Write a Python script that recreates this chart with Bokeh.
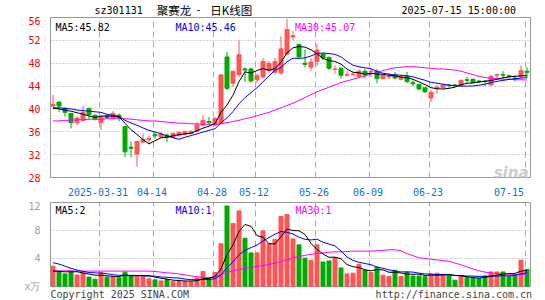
from bokeh.plotting import figure
from bokeh.models import ColumnDataSource, Range1d, FixedTicker, Label, Title
from bokeh.layouts import column
from bokeh.embed import file_html
from bokeh.resources import INLINE

# ---------------- data ----------------
day_index = list(range(80))

open_price = [40.5, 41.2, 40.1, 39.2, 37.6, 38.0, 40.1, 38.9, 37.6, 38.8,
              38.4, 38.9, 36.9, 33.3, 32.1, 34.2, 34.6, 35.5, 35.1, 35.4,
              35.0, 35.3, 35.5, 35.7, 36.1, 37.2, 37.8, 37.2, 37.5, 49.1,
              44.5, 46.0, 47.0, 47.0, 45.1, 45.6, 46.7, 46.4, 46.3, 49.6,
              52.6, 51.3, 48.0, 47.3, 48.3, 49.6, 49.0, 46.9, 47.1, 45.9,
              46.0, 45.7, 46.6, 46.5, 46.6, 45.3, 45.6, 46.0, 45.2, 45.7,
              44.6, 44.3, 43.7, 41.9, 43.6, 43.7, 44.2, 44.2, 44.1, 45.1,
              45.2, 44.9, 44.9, 44.2, 45.9, 46.0, 45.8, 45.4, 45.6, 46.6]
high_price = [42.5, 41.3, 40.3, 39.3, 38.7, 40.5, 40.2, 39.0, 38.8, 38.9,
              39.6, 39.2, 37.0, 34.3, 34.3, 35.7, 35.3, 35.9, 36.0, 35.7,
              35.9, 36.1, 36.2, 36.2, 37.7, 38.9, 38.6, 38.6, 45.96, 50.0,
              46.6, 52.0, 47.3, 47.2, 46.2, 48.9, 48.4, 48.9, 52.8, 55.8,
              53.6, 51.4, 50.4, 48.9, 51.4, 49.8, 49.2, 47.6, 47.3, 46.6,
              46.4, 46.9, 47.0, 47.0, 47.0, 46.0, 46.2, 46.5, 46.0, 46.5,
              45.0, 44.4, 43.8, 43.3, 44.2, 44.3, 44.4, 44.4, 45.1, 45.6,
              45.3, 45.0, 45.0, 46.0, 46.1, 46.6, 46.0, 45.9, 47.6, 47.3]
low_price = [40.3, 39.5, 38.6, 36.6, 37.2, 37.8, 38.1, 38.0, 36.3, 38.3,
             38.3, 37.8, 31.6, 31.6, 29.9, 34.0, 33.8, 34.8, 34.9, 34.2,
             34.9, 35.2, 35.4, 35.6, 36.0, 37.0, 37.2, 37.0, 37.4, 43.3,
             43.8, 45.6, 44.7, 44.6, 44.5, 45.3, 46.3, 46.0, 46.0, 49.4,
             52.0, 49.0, 47.3, 46.6, 47.5, 48.5, 46.8, 46.2, 45.3, 45.6,
             45.8, 45.6, 45.3, 45.6, 44.5, 45.2, 45.2, 45.2, 45.0, 44.5,
             44.0, 43.2, 42.8, 41.2, 42.7, 43.6, 43.7, 43.9, 44.0, 44.5,
             44.5, 44.5, 44.0, 44.0, 45.1, 45.3, 45.3, 44.8, 45.4, 45.4]
close_price = [40.8, 40.5, 39.4, 37.6, 38.4, 39.4, 39.0, 38.2, 38.7, 38.5,
               39.2, 38.5, 32.5, 33.1, 34.3, 34.7, 34.8, 35.3, 35.6, 35.0,
               35.7, 35.9, 36.0, 36.1, 37.2, 38.0, 37.6, 38.3, 45.96, 43.6,
               46.6, 49.5, 46.8, 44.9, 45.8, 48.3, 48.0, 48.3, 50.5, 53.9,
               52.8, 49.1, 47.8, 48.2, 50.3, 48.9, 47.1, 47.0, 45.9, 46.0,
               46.1, 46.6, 45.9, 46.6, 45.3, 45.9, 45.7, 45.4, 45.6, 44.8,
               44.4, 43.5, 43.0, 42.9, 43.8, 44.2, 44.1, 44.1, 45.0, 45.0,
               44.6, 44.8, 44.8, 45.7, 46.0, 45.9, 45.7, 45.2, 46.7, 46.4]

ma5 = [40.1, 40.0, 39.8, 39.6, 39.34, 39.06, 38.76, 38.52, 38.74, 38.76,
       38.72, 38.62, 37.48, 36.36, 35.52, 34.62, 33.88, 34.44, 34.94, 35.08,
       35.28, 35.5, 35.64, 35.74, 36.18, 36.64, 36.98, 37.44, 39.41, 40.69,
       42.41, 44.79, 46.49, 46.28, 46.72, 47.06, 46.76, 47.06, 48.18, 49.8,
       50.7, 50.92, 50.82, 50.36, 49.64, 48.86, 48.46, 48.3, 47.84, 46.98,
       46.42, 46.32, 46.1, 46.24, 46.1, 46.06, 45.88, 45.78, 45.58, 45.48,
       45.18, 44.74, 44.26, 43.72, 43.52, 43.48, 43.6, 43.82, 44.24, 44.48,
       44.56, 44.7, 44.84, 44.98, 45.18, 45.44, 45.62, 45.7, 45.8, 45.82]
ma10 = [40.2, 40.2, 40.1, 40.0, 39.8, 39.7, 39.6, 39.5, 39.4, 39.05,
        38.89, 38.69, 38.0, 37.55, 37.14, 36.67, 36.25, 35.96, 35.65, 35.3,
        34.95, 34.69, 35.04, 35.34, 35.63, 35.96, 36.24, 36.54, 37.58, 38.44,
        39.53, 40.89, 41.97, 42.85, 43.71, 44.74, 45.78, 46.78, 47.23, 48.26,
        48.88, 48.84, 48.94, 49.27, 49.72, 49.78, 49.69, 49.56, 49.1, 48.31,
        47.64, 47.39, 47.2, 47.04, 46.54, 46.24, 46.1, 45.94, 45.91, 45.79,
        45.62, 45.31, 45.02, 44.65, 44.5, 44.33, 44.17, 44.04, 43.98, 44.0,
        44.02, 44.15, 44.33, 44.61, 44.83, 45.0, 45.16, 45.27, 45.4, 45.46]
ma30 = [37.9, 37.9, 38.0, 38.0, 38.1, 38.1, 38.2, 38.2, 38.2, 38.3,
        38.3, 38.3, 38.3, 38.2, 38.1, 38.0, 37.9, 37.9, 37.8, 37.7,
        37.6, 37.5, 37.5, 37.4, 37.4, 37.3, 37.3, 37.3, 37.4, 37.6,
        37.8, 38.0, 38.3, 38.5, 38.8, 39.1, 39.4, 39.8, 40.2, 40.6,
        41.0, 41.5, 42.0, 42.5, 43.0, 43.4, 43.8, 44.2, 44.6, 44.9,
        45.2, 45.5, 45.8, 46.1, 46.4, 46.7, 47.0, 47.2, 47.3, 47.4,
        47.4, 47.3, 47.2, 47.1, 47.0, 47.0, 46.9, 46.8, 46.6, 46.3,
        46.0, 45.7, 45.5, 45.3, 45.3, 45.2, 45.2, 45.1, 45.1, 45.07]

volume = [2.9, 2.1, 1.8, 2.1, 1.65, 1.95, 1.35, 1.05, 2.0, 1.35,
          1.45, 1.25, 2.05, 1.6, 1.55, 1.45, 1.1, 0.95, 0.8, 1.0,
          0.72, 0.72, 0.72, 0.72, 1.2, 2.15, 1.1, 2.0, 6.1, 11.5,
          9.0, 10.8, 6.9, 4.8, 4.8, 7.95, 6.1, 6.75, 10.0, 10.3,
          6.8, 5.95, 4.05, 3.75, 5.95, 3.5, 3.65, 4.1, 2.65, 1.8,
          1.9, 3.15, 2.35, 2.0, 2.75, 1.62, 1.45, 2.33, 1.45, 2.0,
          1.5, 1.5, 1.4, 1.75, 1.9, 1.75, 1.62, 0.9, 1.42, 1.27,
          1.27, 1.14, 1.5, 2.08, 2.08, 2.08, 1.45, 1.65, 3.76, 2.45]
vol_ma5 = [2.2, 2.15, 2.1, 2.1, 2.11, 1.92, 1.77, 1.62, 1.6, 1.54,
           1.44, 1.42, 1.62, 1.54, 1.58, 1.58, 1.55, 1.33, 1.17, 1.06,
           0.91, 0.84, 0.79, 0.78, 0.82, 1.1, 1.18, 1.43, 2.51, 4.57,
           5.94, 7.88, 8.86, 8.6, 7.26, 7.05, 6.11, 6.08, 7.12, 8.22,
           7.99, 7.96, 7.42, 6.17, 5.3, 4.64, 4.18, 4.19, 3.97, 3.14,
           2.82, 2.72, 2.37, 2.24, 2.43, 2.37, 2.03, 2.03, 1.92, 1.77,
           1.75, 1.76, 1.57, 1.63, 1.61, 1.66, 1.68, 1.58, 1.52, 1.39,
           1.3, 1.2, 1.32, 1.45, 1.61, 1.78, 1.84, 1.87, 2.2, 2.28]
vol_ma10 = [3.4, 3.2, 2.9, 2.6, 2.35, 2.15, 2.0, 1.95, 1.9, 1.83,
            1.68, 1.6, 1.62, 1.57, 1.56, 1.51, 1.49, 1.48, 1.36, 1.32,
            1.25, 1.2, 1.06, 0.98, 0.94, 1.01, 1.01, 1.11, 1.65, 2.7,
            3.52, 4.53, 5.15, 5.56, 5.92, 6.5, 7.0, 7.47, 7.86, 7.74,
            7.52, 7.04, 6.75, 6.65, 6.76, 6.32, 6.07, 5.81, 5.07, 4.22,
            3.73, 3.45, 3.28, 3.11, 2.79, 2.6, 2.38, 2.2, 2.08, 2.1,
            2.06, 1.9, 1.8, 1.78, 1.69, 1.71, 1.72, 1.58, 1.58, 1.5,
            1.48, 1.44, 1.45, 1.49, 1.5, 1.54, 1.52, 1.6, 1.83, 1.95]
vol_ma30 = [2.25, 2.25, 2.25, 2.25, 2.2, 2.2, 2.2, 2.2, 2.2, 2.2,
            2.2, 2.2, 2.2, 2.2, 2.2, 2.2, 2.2, 2.15, 2.05, 1.95,
            1.9, 1.8, 1.65, 1.5, 1.4, 1.3, 1.25, 1.4, 1.7, 2.0,
            2.25, 2.4, 2.6, 2.7, 2.85, 3.0, 3.15, 3.35, 3.55, 3.8,
            4.1, 4.3, 4.45, 4.6, 4.7, 4.8, 4.9, 4.95, 4.95, 5.0,
            5.05, 5.05, 5.05, 5.05, 5.1, 5.15, 5.25, 5.25, 5.1, 4.7,
            4.4, 4.1, 4.0, 3.9, 3.8, 3.7, 3.6, 3.35, 3.1, 2.8,
            2.5, 2.25, 2.05, 1.95, 1.85, 1.8, 1.75, 1.72, 1.72, 1.75]

date_labels = ["2025-03-31", "04-14", "04-28", "05-12", "05-26", "06-09", "06-23", "07-15"]
date_days = [8, 17, 27, 34, 44, 53, 63, 79]
price_ticks = [28, 32, 36, 40, 44, 48, 52, 56]
volume_ticks = [0, 4, 8, 12]

# ---------------- styling ----------------
RED = "#ff5555"
GREEN = "#00aa00"
MONO = "DejaVu Sans Mono"
CJK = "Noto Sans CJK SC"
X0 = -5.0 / 12.0          # x-range start (frame left edge)
X1 = X0 + 80.0

colors = [RED if c >= o else GREEN for o, c in zip(open_price, close_price)]
src = ColumnDataSource(dict(
    x=day_index, o=open_price, h=high_price, l=low_price, c=close_price,
    top=[max(o, c) for o, c in zip(open_price, close_price)],
    bot=[min(o, c) for o, c in zip(open_price, close_price)],
    color=colors, vol=volume, ma5=ma5, ma10=ma10, ma30=ma30,
    vma5=vol_ma5, vma10=vol_ma10, vma30=vol_ma30,
))

grid_pos = [d - 1.0 / 3.0 for d in date_days]
label_pos = [d - 0.5 for d in date_days[:-1]] + [76.0]


def px_x(px):
    return X0 + (px - 50.0) / 6.0


def style_common(fig):
    fig.outline_line_color = "#999999"
    fig.outline_line_width = 1
    fig.background_fill_color = "white"
    fig.border_fill_color = "white"
    fig.xgrid.ticker = FixedTicker(ticks=grid_pos)
    fig.xgrid.grid_line_color = "#aaaaaa"
    fig.xgrid.grid_line_dash = "6 4"
    fig.ygrid.grid_line_color = "#aaaaaa"
    fig.ygrid.grid_line_dash = "1 2"
    for ax in fig.yaxis:
        ax.axis_line_color = None
        ax.major_tick_line_color = None
        ax.minor_tick_line_color = None
        ax.major_label_standoff = 4
        ax.major_label_text_font = MONO
        ax.major_label_text_font_size = "10px"


def add_label(fig, x, y, text, color="black", align="left", font=MONO, size="10px",
              baseline="alphabetic", style="normal", y_offset=0):
    fig.add_layout(Label(x=x, y=y, text=text, text_color=color, text_align=align,
                         text_baseline=baseline, text_font=font, text_font_size=size,
                         text_font_style=style, y_offset=y_offset))


# ---------------- header strip: texts hang from the strip's top edge ----------------
HEAD_H = 16
head = figure(width=545, height=HEAD_H, x_range=Range1d(0, 545), y_range=Range1d(0, HEAD_H),
              title=None, output_backend="svg", toolbar_location=None,
              min_border_left=0, min_border_right=0, min_border_top=0, min_border_bottom=0)
head.axis.visible = False
head.grid.visible = False
head.outline_line_color = None
head.background_fill_color = "white"
head.border_fill_color = "white"

add_label(head, 50, HEAD_H, "sz301131", baseline="top", y_offset=-4)
add_label(head, 120.5, HEAD_H, "聚赛龙", font=CJK, size="11.5px", baseline="top", y_offset=-1)
add_label(head, 168, HEAD_H, "-", align="center", font=MONO, size="10px", baseline="top", y_offset=-4)
add_label(head, 181.5, HEAD_H, "日K线图", font=CJK, size="11.5px", baseline="top", y_offset=-1)
add_label(head, 528.5, HEAD_H, "2025-07-15 15:00:00", align="right", baseline="top", y_offset=-4)

# ---------------- main K-line panel ----------------
p = figure(width=545, height=200 - HEAD_H, x_range=Range1d(X0, X1), y_range=Range1d(28, 56),
           title=None, output_backend="svg", toolbar_location=None,
           min_border_left=50, min_border_right=15, min_border_top=17 - HEAD_H, min_border_bottom=23)
style_common(p)
price_label_pos = price_ticks[:-1] + [55.6]
p.yaxis.ticker = FixedTicker(ticks=price_label_pos)
p.yaxis.major_label_overrides = {pos: str(t) for pos, t in zip(price_label_pos, price_ticks)}
p.yaxis.major_label_text_color = "#ff0000"
p.ygrid.ticker = FixedTicker(ticks=price_ticks[1:-1])
p.xaxis.ticker = FixedTicker(ticks=label_pos)
p.xaxis.major_label_overrides = {pos: lab for pos, lab in zip(label_pos, date_labels)}
p.xaxis.axis_line_color = None
p.xaxis.major_tick_line_color = None
p.xaxis.minor_tick_line_color = None
p.xaxis.major_label_standoff = 4
p.xaxis.major_label_text_color = "#1273c5"
p.xaxis.major_label_text_font = MONO
p.xaxis.major_label_text_font_size = "10px"

p.segment(x0="x", y0="h", x1="x", y1="l", line_color="color", line_width=1, source=src)
p.vbar(x="x", width=4.0 / 6.0, top="top", bottom="bot", fill_color="color",
       line_color="color", line_width=1, source=src)
p.line("x", "ma30", line_color="#ff00ff", line_width=1, source=src)
p.line("x", "ma10", line_color="#0000ff", line_width=1, source=src)
p.line("x", "ma5", line_color="black", line_width=1, source=src)


def py_main(py):
    return 28.0 + (177.0 - py) * 28.0 / 160.0


add_label(p, px_x(55), py_main(26.7), "MA5:45.82", color="black")
add_label(p, px_x(175), py_main(26.7), "MA10:45.46", color="#0000ff")
add_label(p, px_x(294.5), py_main(26.7), "MA30:45.07", color="#ff00ff")
add_label(p, px_x(528), py_main(172), "sina", color="#cccccc", align="right",
          font="DejaVu Sans", size="15px", style="bold italic")

# ---------------- volume panel ----------------
v = figure(width=545, height=100, x_range=p.x_range, y_range=Range1d(0, 12),
           title=None, output_backend="svg", toolbar_location=None,
           min_border_left=50, min_border_right=15, min_border_top=2, min_border_bottom=14)
style_common(v)
v.xaxis.visible = False
v.yaxis.ticker = FixedTicker(ticks=volume_ticks)
v.yaxis.major_label_overrides = {0: "x万"}
v.yaxis.major_label_text_color = "#a0a0a0"
v.ygrid.ticker = FixedTicker(ticks=[4, 8])

v.vbar(x="x", width=4.0 / 6.0, top="vol", bottom=0, fill_color="color",
       line_color="color", line_width=1, source=src)
v.line("x", "vma30", line_color="#ff00ff", line_width=1, source=src)
v.line("x", "vma10", line_color="#0000ff", line_width=1, source=src)
v.line("x", "vma5", line_color="black", line_width=1, source=src)


def py_vol(py):
    return (286.0 - py) / 7.0


add_label(v, px_x(55), py_vol(210), "MA5:2", color="black")
add_label(v, px_x(175), py_vol(210), "MA10:1", color="#0000ff")
add_label(v, px_x(295), py_vol(210), "MA30:1", color="#ff00ff")

footer = "Copyright 2025 SINA.COM" + "\u00a0" * 31 + "http://finance.sina.com.cn"
v.add_layout(Title(text=footer, align="left", text_font=MONO, text_font_size="10px",
                   text_font_style="normal", text_color="#444444", standoff=0, offset=0),
             "below")

layout = column(head, p, v, spacing=0)
open("out.html", "w").write(file_html(layout, INLINE))
